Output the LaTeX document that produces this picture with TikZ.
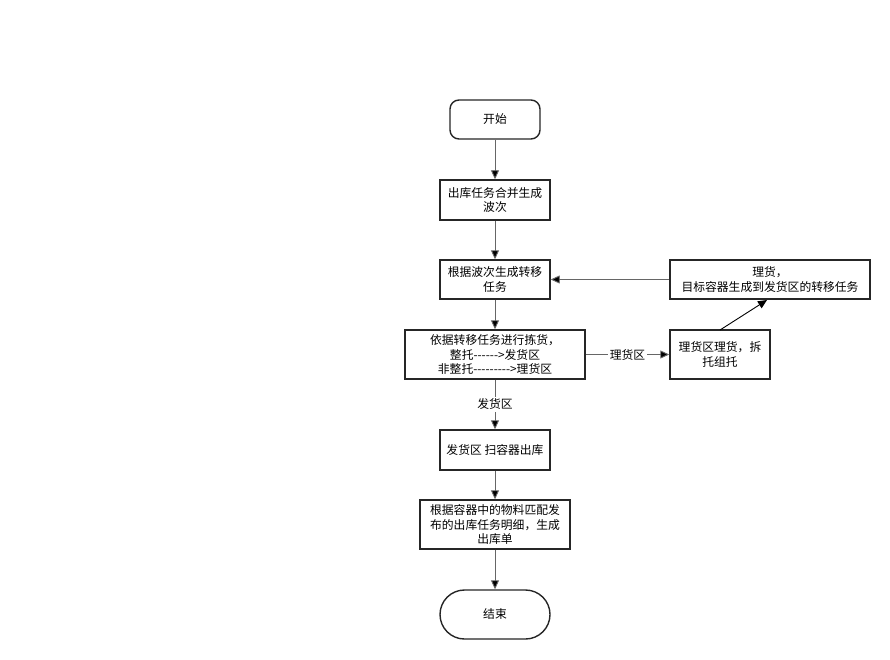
\documentclass[tikz,border=0pt]{standalone}
\usepackage{fontspec}
\setmainfont[Ligatures=TeXOff]{Noto Sans CJK SC}
\usetikzlibrary{arrows.meta,shapes.misc}
\begin{document}
\begin{tikzpicture}[x=1pt,y=-1pt,
  font=\fontsize{11.8}{14.5}\selectfont,
  box/.style={draw=black!85,line width=1.4pt,fill=white,align=center,inner sep=0pt},
  conn/.style={draw=black!60,line width=0.9pt,-{Triangle[length=9pt,width=8pt,fill=black]}},
  lbl/.style={fill=white,inner sep=2pt}]
\useasboundingbox (0,0) rectangle (890,660);
\node[box,rounded corners=9pt,minimum width=90pt,minimum height=39pt] (start) at (495,119.5) {开始};
\node[box,minimum width=110pt,minimum height=40pt] (b1) at (495,200) {出库任务合并生成\\波次};
\node[box,minimum width=110pt,minimum height=39pt] (b2) at (495,279.5) {根据波次生成转移\\任务};
\node[box,minimum width=180pt,minimum height=49pt] (b3) at (495,354.5) {依据转移任务进行拣货，\\整托------>发货区\\非整托--------->理货区};
\node[box,minimum width=110pt,minimum height=40pt] (b4) at (495,450) {发货区 扫容器出库};
\node[box,minimum width=150pt,minimum height=49pt] (b5) at (495,524.5) {根据容器中的物料匹配发\\布的出库任务明细，生成\\出库单};
\node[box,rounded rectangle,minimum width=110pt,minimum height=49pt] (end) at (495,614.5) {结束};
\node[box,minimum width=100pt,minimum height=49pt] (r1) at (720,354.5) {理货区理货，拆\\托组托};
\node[box,minimum width=200pt,minimum height=39pt] (r2) at (770,279.5) {理货，\\目标容器生成到发货区的转移任务};
\coordinate (r1top) at (720,330);
\coordinate (r2bot) at (767,300);
\draw[conn] (start) -- (b1);
\draw[conn] (b1) -- (b2);
\draw[conn] (b2) -- (b3);
\draw[conn] (b3) -- node[lbl]{发货区} (b4);
\draw[conn] (b4) -- (b5);
\draw[conn] (b5) -- (end);
\draw[conn] (b3) -- node[lbl]{理货区} (r1);
\draw[conn,draw=black] (r1top) -- (r2bot);
\draw[conn] (r2) -- (b2);
\end{tikzpicture}
\end{document}
